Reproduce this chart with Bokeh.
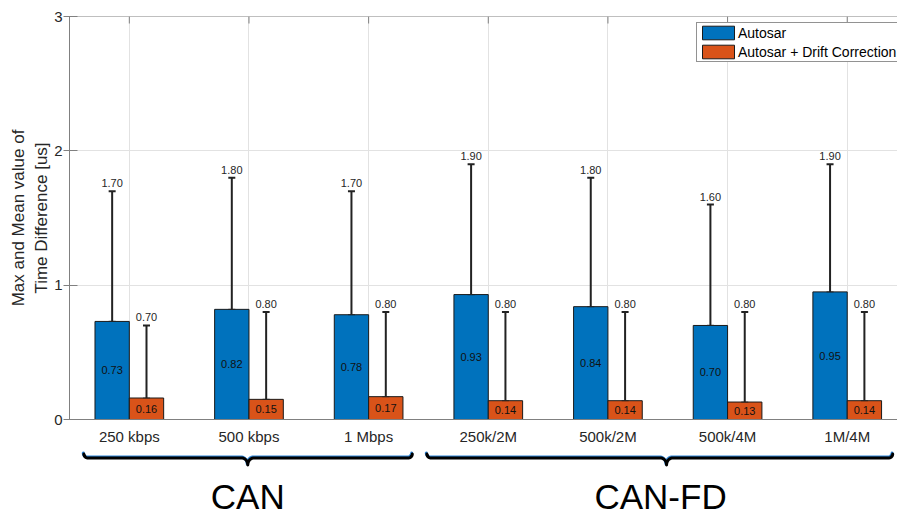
import numpy as np
from bokeh.plotting import figure
from bokeh.layouts import column
from bokeh.models import Range1d, FixedTicker, ColumnDataSource, LabelSet, Span
from bokeh.core.properties import value
from bokeh.embed import file_html
from bokeh.resources import INLINE

# ---- data -------------------------------------------------------------
categories = ["250 kbps", "500 kbps", "1 Mbps", "250k/2M", "500k/2M", "500k/4M", "1M/4M"]
autosar_mean = [0.73, 0.82, 0.78, 0.93, 0.84, 0.70, 0.95]
autosar_max = [1.70, 1.80, 1.70, 1.90, 1.80, 1.60, 1.90]
drift_mean = [0.16, 0.15, 0.17, 0.14, 0.14, 0.13, 0.14]
drift_max = [0.70, 0.80, 0.80, 0.80, 0.80, 0.80, 0.80]
groups = ["CAN", "CAN-FD"]
series_names = ["Autosar", "Autosar + Drift Correction"]
y_ticks = [0, 1, 2, 3]

# ---- style ------------------------------------------------------------
FONT = "Liberation Sans"
TEXT = "#262626"
AXIS = "#808080"
GRID = "#e2e2e2"
BLUE = "#0072BD"
ORANGE = "#D95319"
EDGE = "#1a1a1a"
EBAR = "#222222"

W = 897
TOP_H = 448
BOT_H = 66
LEFT = 69
SLOT = 119.65          # pixels per category
BAR_W = 0.287
OFF = 0.1435

xs = list(range(1, len(categories) + 1))
x_range = Range1d(0.5, 0.5 + (W - LEFT) / SLOT)
Y_MAX = y_ticks[-1]


def series_source(offset, means, maxes):
    return ColumnDataSource(dict(
        x=[i + offset for i in xs],
        mean=means,
        max=maxes,
        mid=[m / 2 for m in means],
        mean_txt=[f"{m:.2f}" for m in means],
        max_txt=[f"{m:.2f}" for m in maxes],
    ))


src_a = series_source(-OFF, autosar_mean, autosar_max)
src_d = series_source(OFF, drift_mean, drift_max)

# ---- main chart -------------------------------------------------------
p = figure(width=W, height=TOP_H, x_range=x_range, y_range=Range1d(0, Y_MAX),
           output_backend="svg", toolbar_location=None,
           min_border_left=LEFT, min_border_right=0,
           min_border_top=16, min_border_bottom=29)
p.outline_line_color = None
p.background_fill_color = "white"
p.border_fill_color = "white"

p.xgrid.ticker = FixedTicker(ticks=xs)
p.ygrid.ticker = FixedTicker(ticks=y_ticks)
p.grid.grid_line_color = GRID
p.grid.grid_line_width = 1

for src, color, name in ((src_a, BLUE, series_names[0]), (src_d, ORANGE, series_names[1])):
    p.vbar(x="x", top="mean", bottom=0, width=BAR_W, source=src,
           fill_color=color, line_color=EDGE, line_width=1, legend_label=name)

for src in (src_a, src_d):
    p.segment(x0="x", y0="mean", x1="x", y1="max", source=src,
              line_color=EBAR, line_width=2)
    p.scatter(x="x", y="max", source=src, marker="dash", size=7,
              line_color=EBAR, line_width=2)
    p.scatter(x="x", y="mean", source=src, marker="dash", size=7,
              line_color=EBAR, line_width=1.2, line_alpha=0.7)
    p.text(x="x", y="mid", text="mean_txt", source=src,
           text_font=value(FONT), text_font_size=value("11px"),
           text_align="center", text_baseline="middle", text_color="#111111")
    p.add_layout(LabelSet(x="x", y="max", text="max_txt", source=src,
                          y_offset=4, text_align="center", text_baseline="alphabetic",
                          text_font=value(FONT), text_font_size=value("11px"),
                          text_color=TEXT))

# box edge along the top with inward tick marks
p.add_layout(Span(location=Y_MAX, dimension="width", line_color=AXIS, line_width=1))
p.ray(x=xs, y=[Y_MAX] * len(xs), length=7, length_units="screen",
      angle=-np.pi / 2, line_color=AXIS, line_width=1)

xa = p.xaxis[0]
xa.ticker = FixedTicker(ticks=xs)
xa.major_label_overrides = {i: c for i, c in zip(xs, categories)}
xa.major_label_text_font = FONT
xa.major_label_text_font_size = "15px"
xa.major_label_text_color = TEXT
xa.major_label_standoff = 8
xa.axis_line_color = AXIS
xa.major_tick_in = 0
xa.major_tick_out = 0
xa.minor_tick_line_color = None

ya = p.yaxis[0]
ya.ticker = FixedTicker(ticks=y_ticks)
ya.major_label_text_font = FONT
ya.major_label_text_font_size = "15px"
ya.major_label_text_color = TEXT
ya.major_label_standoff = 1
ya.axis_line_color = AXIS
ya.major_tick_line_color = AXIS
ya.major_tick_in = 8
ya.major_tick_out = 6
ya.minor_tick_line_color = None
ya.axis_label = "Max and Mean value of\nTime Difference [us]"
ya.axis_label_text_font = FONT
ya.axis_label_text_font_size = "17px"
ya.axis_label_text_font_style = "normal"
ya.axis_label_text_color = TEXT
ya.axis_label_standoff = 0

leg = p.legend[0]
leg.location = (627, 357)
leg.label_text_font = FONT
leg.label_text_font_size = "14px"
leg.label_text_color = "#000000"
leg.glyph_width = 40
leg.glyph_height = 17
leg.label_height = 17
leg.label_standoff = 0
leg.padding = 1
leg.spacing = 2
leg.margin = 0
leg.border_line_color = "#262626"
leg.border_line_width = 1
leg.background_fill_color = "white"
leg.background_fill_alpha = 1.0

# ---- group braces and names ----------------------------------------------
q = figure(width=W, height=BOT_H, x_range=x_range, y_range=Range1d(BOT_H, 0),
           output_backend="svg", toolbar_location=None,
           x_axis_location=None, y_axis_location=None,
           min_border_left=LEFT, min_border_right=0,
           min_border_top=0, min_border_bottom=0)
q.grid.visible = False
q.outline_line_color = None
q.border_fill_color = "white"

brace_spans = [(0.62, 1.99, 3.365), (3.487, 5.49, 7.38)]
label_x = [1.99, 5.44]
PX = (x_range.end - x_range.start) / (W - LEFT)   # data units per pixel


def brace_path(x0, xm, x1, v_line=9.5, r=4.0, rh=6.0, rv=7.0, n=14):
    bx, bv = [], []
    a = np.linspace(np.pi, np.pi / 2, n)            # left hook
    bx += list(x0 + (r + r * np.cos(a)) * PX); bv += list(v_line - r + r * np.sin(a))
    a = np.linspace(-np.pi / 2, 0, n)               # left shoulder of the tip
    bx += list(xm + (-rh + rh * np.cos(a)) * PX); bv += list(v_line + rv + rv * np.sin(a))
    a = np.linspace(np.pi, 1.5 * np.pi, n)          # right shoulder of the tip
    bx += list(xm + (rh + rh * np.cos(a)) * PX); bv += list(v_line + rv + rv * np.sin(a))
    a = np.linspace(np.pi / 2, 0, n)                # right hook
    bx += list(x1 + (-r + r * np.cos(a)) * PX); bv += list(v_line - r + r * np.sin(a))
    return bx, bv


for x0, xm, x1 in brace_spans:
    bx, bv = brace_path(x0, xm, x1)
    q.line([b - 0.6 * PX for b in bx], [v - 1.0 for v in bv], line_width=3,
           line_color="#2f86d8", line_join="round", line_cap="round")
    q.line(bx, bv, line_width=3, line_color="black", line_join="round", line_cap="round")

q.text(x=label_x, y=[47.5] * len(groups), text=groups,
       text_font=value(FONT), text_font_size=value("35px"),
       text_align="center", text_baseline="middle", text_color="black")

layout = column(p, q, spacing=0)
open("out.html", "w").write(file_html(layout, INLINE))
